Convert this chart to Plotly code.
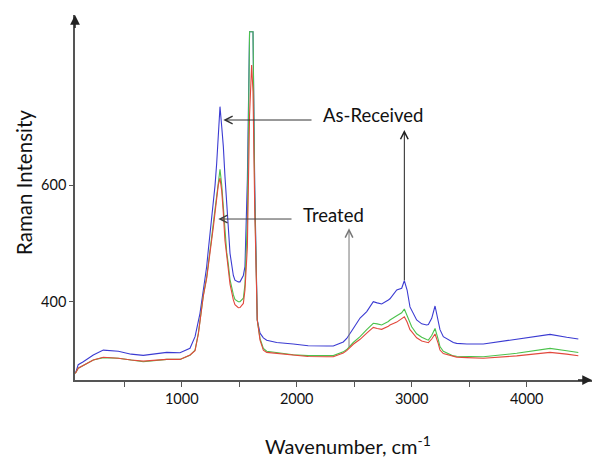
import plotly.graph_objects as go

wavenumber = [72, 81, 100, 144, 231, 318, 449, 560, 666, 870, 985, 1072, 1116, 1145, 1159, 1188,
              1217, 1232, 1260, 1275, 1290, 1304, 1318, 1333, 1348, 1362, 1376, 1391, 1405, 1420,
              1449, 1463, 1492, 1507, 1536, 1550, 1571, 1590, 1608, 1620, 1635, 1657, 1681, 1710,
              1739, 1826, 1970, 2100, 2261, 2318, 2405, 2435, 2492, 2551, 2609, 2666, 2700, 2739,
              2797, 2811, 2870, 2913, 2936, 2960, 2985, 3000, 3043, 3087, 3130, 3145, 3174, 3203,
              3231, 3246, 3275, 3362, 3391, 3480, 3623, 3913, 4203, 4348, 4449]

as_received = [278, 280, 292, 297, 308.6, 317, 315, 310, 308, 313, 312.5, 320, 340, 368.6, 380, 420,
               460, 490, 540, 563, 600, 637, 690, 734.5, 700, 666, 615, 563, 520, 483,
               445, 437, 434, 434, 445, 460, 609, 863, 863, 863, 600, 368.6, 346, 338,
               334, 330, 327.4, 324.5, 324, 324, 331, 337, 354, 372, 383, 400, 398, 396,
               403, 405, 420, 423, 436, 420, 391, 385, 368.6, 362, 360, 361, 371.5, 392.6,
               368.6, 352, 340, 330, 328.6, 327.5, 327.4, 335.5, 344, 339, 336]

treated_a = [277, 279, 286, 291, 300, 304, 303, 300, 297, 301, 301, 308, 317, 346, 366, 411,
             442, 463, 510, 535, 560, 585, 610, 627, 600, 560, 512, 485, 465, 438,
             412, 404, 400, 400, 406, 430, 540, 863, 863, 863, 580, 368.6, 337, 320,
             315, 313, 309, 307.5, 307, 307.5, 314, 318, 330, 340, 352, 363, 362, 360,
             366, 368.6, 376, 381, 387.5, 375, 362, 357, 345, 339, 335, 334, 342, 354,
             335, 323, 315, 307, 306.5, 306, 305.7, 311.5, 320, 316, 313]

treated_b = [277, 279, 286, 291, 300, 304.6, 303, 300, 298, 301, 301, 308.6, 316, 345, 365, 410,
             440, 460, 505, 528, 551.6, 575, 600, 612, 590, 551.6, 505, 480, 460, 430,
             403, 395, 389.7, 390, 397, 420, 494, 720, 806, 760, 560, 368.6, 334, 317,
             313, 311.5, 308.6, 306, 305.7, 305.7, 312, 316, 327, 335.5, 346, 356, 354, 352.6,
             358, 360, 365, 370, 374, 365, 352, 348.5, 338, 332.6, 330, 329.7, 336, 344.6,
             328, 317, 311, 305.7, 305, 304, 303, 307, 313, 310, 307.4]

x_tickvals = [500, 1000, 1500, 2000, 2500, 3000, 3500, 4000]
x_ticktext = ["", "1000", "", "2000", "", "3000", "", "4000"]
y_tickvals = [400, 600]
y_ticktext = ["400", "600"]

FONT = "Lato"
fig = go.Figure()
fig.add_trace(go.Scatter(x=wavenumber, y=as_received, mode="lines",
                         line=dict(color="#3b3bd2", width=1.1), showlegend=False))
fig.add_trace(go.Scatter(x=wavenumber, y=treated_a, mode="lines",
                         line=dict(color="#4cc24c", width=1.1), showlegend=False))
fig.add_trace(go.Scatter(x=wavenumber, y=treated_b, mode="lines",
                         line=dict(color="#e2483c", width=1.1), showlegend=False))

ann = []
def arrow(xh, yh, xt, yt, color, head=5, size=1.5, width=1):
    ann.append(dict(x=xh, y=yh, ax=xt, ay=yt, xref="x", yref="y", axref="x", ayref="y",
                    showarrow=True, arrowhead=head, arrowsize=size, arrowwidth=width,
                    arrowcolor=color, text="", standoff=0, startstandoff=0))

arrow(1362, 711.6, 2142, 711.6, "#333333")
arrow(2936, 694.5, 2936, 434, "#222222")
arrow(1318, 541.8, 1968, 541.8, "#444444")
arrow(2455, 525.9, 2455, 320, "#777777")

ann.append(dict(x=2663, y=720, xref="x", yref="y", text="As-Received", showarrow=False,
                font=dict(family=FONT, size=18.5, color="#111111"), xanchor="center", yanchor="middle"))
ann.append(dict(x=2323, y=548.7, xref="x", yref="y", text="Treated", showarrow=False,
                font=dict(family=FONT, size=18.5, color="#111111"), xanchor="center", yanchor="middle"))

# axis arrowheads
ann.append(dict(x=1.0, y=0, ax=0.97, ay=0, xref="x domain", yref="y domain",
                axref="x domain", ayref="y domain", showarrow=True, arrowhead=2,
                arrowsize=1.3, arrowwidth=1.5, arrowcolor="#222222", text="", standoff=0))
ann.append(dict(x=0, y=1.0, ax=0, ay=0.96, xref="x domain", yref="y domain",
                axref="x domain", ayref="y domain", showarrow=True, arrowhead=2,
                arrowsize=1.3, arrowwidth=1.5, arrowcolor="#222222", text="", standoff=0))

# axis titles
ann.append(dict(x=0.529, y=-0.177, xref="paper", yref="paper",
                text="Wavenumber, cm<sup>-1</sup>", showarrow=False,
                font=dict(family=FONT, size=20, color="#111111"), xanchor="center", yanchor="middle"))
ann.append(dict(x=-0.0986, y=0.54, xref="paper", yref="paper", text="Raman Intensity",
                showarrow=False, textangle=-90,
                font=dict(family=FONT, size=20.5, color="#111111"), xanchor="center", yanchor="middle"))

fig.update_layout(
    width=595, height=459,
    margin=dict(l=75, r=3, t=15, b=79),
    paper_bgcolor="white", plot_bgcolor="white",
    font=dict(family=FONT, size=14.5, color="#111111"),
    annotations=ann,
    xaxis=dict(range=[72, 4568], showgrid=False, zeroline=False, showline=True,
               linecolor="#555555", linewidth=1.5, ticks="outside", ticklen=5,
               tickcolor="#555555", tickvals=x_tickvals, ticktext=x_ticktext,
               tickfont=dict(family=FONT, size=14.5, color="#111111")),
    yaxis=dict(range=[265.7, 891.7], showgrid=False, zeroline=False, showline=True,
               linecolor="#555555", linewidth=1.5, ticks="outside", ticklen=4,
               tickcolor="#555555", tickvals=y_tickvals, ticktext=y_ticktext,
               tickfont=dict(family=FONT, size=14.5, color="#111111")),
)

fig.write_html("out.html")
